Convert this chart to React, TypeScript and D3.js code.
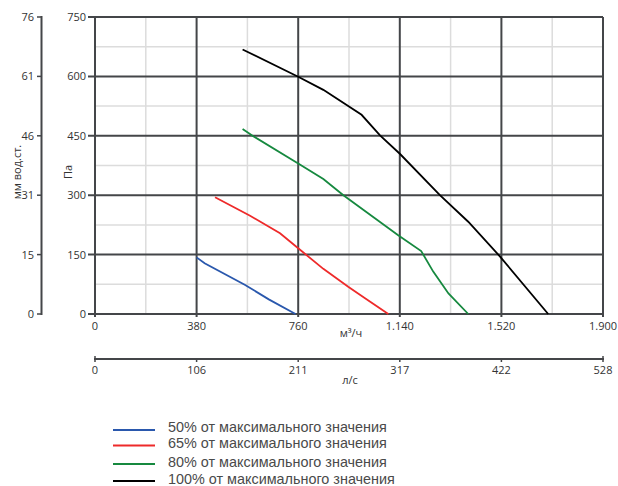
import React from "react";
import * as d3 from "d3";

const flowTicks = [0, 380, 760, 1140, 1520, 1900];
const flowLabels = ["0", "380", "760", "1.140", "1.520", "1.900"];
const flowMinor = [190, 570, 950, 1330, 1710];
const lsLabels = ["0", "106", "211", "317", "422", "528"];
const paTicks = [0, 150, 300, 450, 600, 750];
const paMinor = [75, 225, 375, 525, 675];
const mmLabels = ["0", "15", "31", "46", "61", "76"];

const blue: [number, number][] = [[380, 143], [410, 128], [560, 74], [650, 37], [750, 0]];
const red: [number, number][] = [[449, 295], [580, 248], [692, 204], [760, 166], [854, 114], [947, 69], [1010, 40], [1097, 0]];
const green: [number, number][] = [[552, 467], [592, 449], [760, 380], [854, 341], [929, 300], [1134, 199], [1220, 159], [1265, 107], [1322, 52], [1396, 0]];
const black: [number, number][] = [[552, 668], [760, 599], [854, 566], [997, 503], [1066, 451], [1141, 404], [1290, 300], [1396, 233], [1515, 145], [1695, 0]];

const seriesNames = [
  "50% от максимального значения",
  "65% от максимального значения",
  "80% от максимального значения",
  "100% от максимального значения",
];
const seriesColors = ["#2a58ad", "#ee2a2a", "#16893f", "#000000"];
const seriesData = [blue, red, green, black];

const X0 = 95, X1 = 603, Y0 = 314, Y1 = 17;
const x = d3.scaleLinear().domain([0, 1900]).range([X0, X1]);
const y = d3.scaleLinear().domain([0, 750]).range([Y0, Y1]);
const line = d3.line<[number, number]>().x(d => x(d[0])).y(d => y(d[1]));

const DARK = "#444649";
const LIGHT = "#dcdcdc";
const FONT = "'Open Sans', 'Liberation Sans', sans-serif";

export default function App() {
  const legendLineY = [430, 445.5, 464, 481];
  const legendTextY = [432, 448, 467, 484];
  return (
    <svg width={618} height={486} style={{ position: "absolute", left: 0, top: 0, display: "block" }} fontFamily={FONT}>
      <rect width={618} height={486} fill="#fff" />
      {/* minor grid */}
      {paMinor.map(v => (
        <line key={"hm" + v} x1={X0} x2={X1} y1={y(v)} y2={y(v)} stroke={LIGHT} strokeWidth={1.5} />
      ))}
      {flowMinor.map(v => (
        <line key={"vm" + v} x1={x(v)} x2={x(v)} y1={Y1} y2={Y0} stroke={LIGHT} strokeWidth={1.5} />
      ))}
      {/* major grid */}
      {paTicks.map(v => (
        <line key={"hM" + v} x1={X0 - 7} x2={X1} y1={y(v)} y2={y(v)} stroke={DARK} strokeWidth={2} />
      ))}
      {flowTicks.map(v => (
        <line key={"vM" + v} x1={x(v)} x2={x(v)} y1={Y1} y2={Y0 + 3} stroke={DARK} strokeWidth={2} />
      ))}
      {/* curves */}
      {seriesData.map((d, i) => (
        <path key={"s" + i} d={line(d) || ""} fill="none" stroke={seriesColors[i]} strokeWidth={1.8} />
      ))}
      {/* main y labels */}
      {paTicks.map(v => (
        <text key={"pl" + v} x={86} y={y(v) + 4} textAnchor="end" fontSize={11} fill="#333">{String(v)}</text>
      ))}
      {/* secondary y axis */}
      <line x1={41.5} x2={41.5} y1={Y1 - 1} y2={Y0 + 1} stroke={DARK} strokeWidth={2} />
      {paTicks.map((v, i) => (
        <g key={"mm" + v}>
          <line x1={37} x2={42} y1={y(v)} y2={y(v)} stroke={DARK} strokeWidth={1.5} />
          <text x={34} y={y(v) + 4} textAnchor="end" fontSize={11} fill="#333">{mmLabels[i]}</text>
        </g>
      ))}
      <text transform="translate(21,172) rotate(-90)" textAnchor="middle" fontSize={11} fill="#333">мм вод.ст.</text>
      <text transform="translate(72,172) rotate(-90)" textAnchor="middle" fontSize={11} fill="#333">Па</text>
      {/* bottom labels */}
      {flowTicks.map((v, i) => (
        <text key={"fl" + v} x={x(v)} y={330} textAnchor="middle" fontSize={11} fill="#333">{flowLabels[i]}</text>
      ))}
      <text x={351} y={337} textAnchor="middle" fontSize={11} fill="#333">м³/ч</text>
      {/* second bottom axis */}
      <line x1={X0 - 1} x2={X1 + 1} y1={359} y2={359} stroke={DARK} strokeWidth={2} />
      {flowTicks.map((v, i) => (
        <g key={"ls" + v}>
          <line x1={x(v)} x2={x(v)} y1={i === 0 || i === flowTicks.length - 1 ? 356 : 359} y2={362} stroke={DARK} strokeWidth={1.5} />
          <text x={x(v)} y={374} textAnchor="middle" fontSize={11} fill="#333">{lsLabels[i]}</text>
        </g>
      ))}
      <text x={350} y={384} textAnchor="middle" fontSize={11} fill="#333">л/с</text>
      {/* legend */}
      {seriesNames.map((n, i) => (
        <g key={"lg" + i}>
          <line x1={113} x2={155} y1={legendLineY[i]} y2={legendLineY[i]} stroke={seriesColors[i]} strokeWidth={2} />
          <text x={168} y={legendTextY[i]} fontSize={14.4} fill="#4a4a4a" fontFamily="'Liberation Sans', Arial, sans-serif">{n}</text>
        </g>
      ))}
    </svg>
  );
}
